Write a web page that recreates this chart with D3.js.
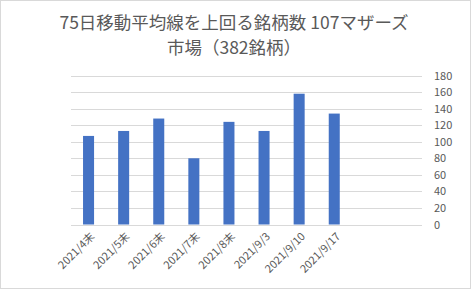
<!DOCTYPE html>
<html>
<head>
<meta charset="utf-8">
<script src="https://cdn.jsdelivr.net/npm/d3@7"></script>
<style>
  body { margin: 0; background: #fff; }
  svg text { font-family: "Noto Sans CJK JP", "Noto Sans", sans-serif; fill: #595959; }
</style>
</head>
<body>
<svg id="chart" width="471" height="289"></svg>
<script>
// chart data
const categories = ["2021/4末", "2021/5末", "2021/6末", "2021/7末", "2021/8末", "2021/9/3", "2021/9/10", "2021/9/17"];
const counts = [107, 113, 128, 80, 124, 113, 158, 134];
const yTicks = [0, 20, 40, 60, 80, 100, 120, 140, 160, 180];
const titleLines = ["75日移動平均線を上回る銘柄数 107マザーズ", "市場（382銘柄）"];

const width = 471, height = 289;
const slots = 10; // axis has room for 10 categories, only 8 filled
const margin = { left: 71, right: 49, top: 75.5, bottom: 64.5 };

const svg = d3.select("#chart");

svg.append("rect")
   .attr("x", 0.5).attr("y", 0.5)
   .attr("width", width - 1).attr("height", height - 1)
   .attr("fill", "#fff")
   .attr("stroke", "#d9d9d9");

const x = d3.scaleBand()
            .domain(d3.range(slots))
            .range([margin.left, width - margin.right])
            .paddingInner(0.686)
            .paddingOuter(0.343);

const y = d3.scaleLinear()
            .domain([0, 180])
            .range([height - margin.bottom, margin.top]);

// gridlines
svg.append("g")
   .selectAll("line")
   .data(yTicks)
   .enter().append("line")
   .attr("x1", margin.left)
   .attr("x2", width - margin.right)
   .attr("y1", d => Math.round(y(d)) + 0.5)
   .attr("y2", d => Math.round(y(d)) + 0.5)
   .attr("stroke", "#d9d9d9")
   .attr("stroke-width", 1);

// y axis labels on the right
const yAxis = svg.append("g")
                 .attr("transform", `translate(${width - margin.right + 12},0)`)
                 .call(d3.axisRight(y).tickValues(yTicks).tickSize(0).tickPadding(0));
yAxis.select(".domain").remove();
yAxis.selectAll("text")
     .style("font-size", "11px")
     .attr("fill", "#595959");

// bars
svg.append("g")
   .selectAll("rect")
   .data(counts)
   .enter().append("rect")
   .attr("x", (d, i) => x(i))
   .attr("width", x.bandwidth())
   .attr("y", d => y(d))
   .attr("height", d => y(0) - y(d))
   .attr("fill", "#4472c4");

// category labels, rotated
svg.append("g")
   .selectAll("text")
   .data(categories)
   .enter().append("text")
   .attr("transform", (d, i) => `translate(${x(i) + x.bandwidth() / 2 + 4},${y(0) + 10}) rotate(-45)`)
   .attr("text-anchor", "end")
   .attr("dy", "0.35em")
   .style("font-size", "11px")
   .text(d => d);

// title
svg.append("g")
   .selectAll("text")
   .data(titleLines)
   .enter().append("text")
   .attr("x", 234)
   .attr("y", (d, i) => 29 + i * 25)
   .attr("text-anchor", "middle")
   .style("font-size", "17.5px")
   .text(d => d);
</script>
</body>
</html>
